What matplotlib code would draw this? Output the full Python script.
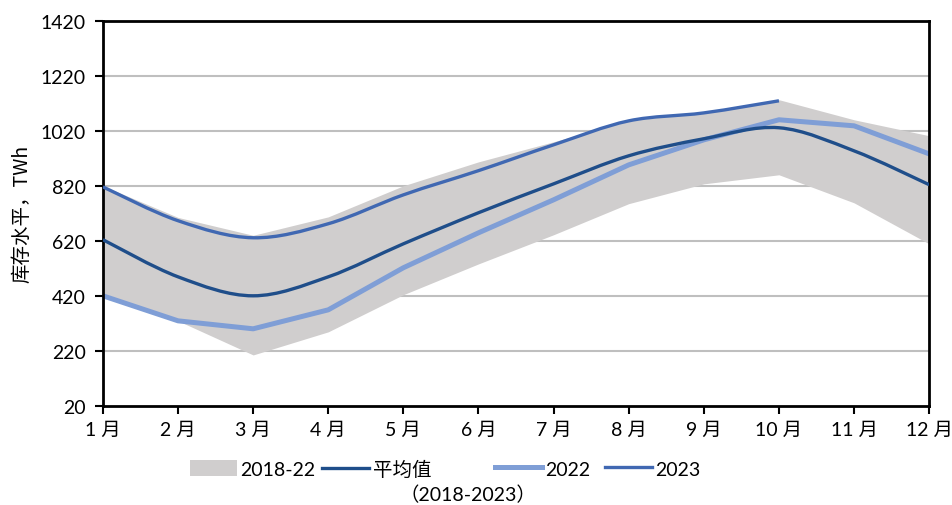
import numpy as np
import matplotlib.pyplot as plt
from matplotlib.path import Path
from matplotlib.patches import PathPatch, Patch
from matplotlib.lines import Line2D

plt.rcParams['font.family'] = ['Lato', 'Noto Sans CJK SC', 'DejaVu Sans']

# 数据
months = np.arange(1, 13)
month_labels = [f'{m} 月' for m in months]
band_low = [420, 329, 205, 289, 424, 536, 642, 755, 827, 860, 758, 609]
band_high = [820, 705, 640, 707, 820, 907, 980, 1056, 1089, 1133, 1060, 1002]
mean_vals = [624, 489, 420, 489, 609, 722, 827, 929, 991, 1031, 947, 824]
vals_2022 = [420, 329, 300, 369, 522, 649, 769, 896, 987, 1060, 1038, 936]
months_2023 = np.arange(1, 11)
vals_2023 = [816, 693, 631, 682, 787, 875, 969, 1056, 1085, 1129]

c_band = '#D0CECE'
c_mean = '#1F4E8A'
c_2022 = '#7F9ED6'
c_2023 = '#4068B2'


def smooth_path(x, y):
    # 平滑曲线 (Catmull-Rom -> Bezier)
    x = np.asarray(x, float)
    y = np.asarray(y, float)
    verts = [(x[0], y[0])]
    codes = [Path.MOVETO]
    n = len(x)
    for i in range(n - 1):
        p0 = (x[max(i - 1, 0)], y[max(i - 1, 0)])
        p1 = (x[i], y[i])
        p2 = (x[i + 1], y[i + 1])
        p3 = (x[min(i + 2, n - 1)], y[min(i + 2, n - 1)])
        c1 = (p1[0] + (p2[0] - p0[0]) / 6, p1[1] + (p2[1] - p0[1]) / 6)
        c2 = (p2[0] - (p3[0] - p1[0]) / 6, p2[1] - (p3[1] - p1[1]) / 6)
        verts += [c1, c2, p2]
        codes += [Path.CURVE4] * 3
    return Path(verts, codes)


fig = plt.figure(figsize=(9.53, 5.06), dpi=100)
ax = fig.add_axes([0.108, 0.196, 0.867, 0.761])

ax.fill_between(months, band_low, band_high, color=c_band, lw=0, zorder=1)
for yv in range(220, 1420, 200):
    ax.axhline(yv, color='#BFBFBF', lw=1.5, zorder=0.5)

ax.add_patch(PathPatch(smooth_path(months, mean_vals), fill=False,
                       edgecolor=c_mean, lw=2.4, zorder=3))
ax.plot(months, vals_2022, color=c_2022, lw=3.6, solid_joinstyle='round', zorder=2)
ax.add_patch(PathPatch(smooth_path(months_2023, vals_2023), fill=False,
                       edgecolor=c_2023, lw=2.4, zorder=4))

ax.set_xlim(1, 12)
ax.set_ylim(20, 1420)
ax.set_xticks(months)
ax.set_xticklabels(month_labels)
ax.set_yticks(range(20, 1421, 200))
ax.tick_params(axis='both', direction='out', length=5.5, width=1.5, labelsize=14, colors='black')
ax.tick_params(axis='x', pad=5)
ax.tick_params(axis='y', pad=7)
for s in ax.spines.values():
    s.set_linewidth(2)
    s.set_color('black')
ax.set_ylabel('库存水平，TWh', fontsize=14, family=['Noto Sans CJK SC'], labelpad=6)

# 图例 (分开放置)
items = [
    (Patch(facecolor=c_band, edgecolor='none'), '2018-22', 190),
    (Line2D([], [], color=c_mean, lw=2.4), '平均值', 322),
    (Line2D([], [], color=c_2022, lw=3.6), '2022', 495),
    (Line2D([], [], color=c_2023, lw=2.4), '2023', 605),
]
for h, lab, px in items:
    fig.legend([h], [lab], loc='center left', bbox_to_anchor=(px / 953, 1 - 470 / 506),
               frameon=False, fontsize=14, handlelength=2.4, handleheight=0.9,
               handletextpad=0.2, borderpad=0, borderaxespad=0)
fig.text(468 / 953, 1 - 495 / 506, '（2018-2023）', fontsize=14, ha='center', va='center')

fig.savefig('out.png', dpi=100)
